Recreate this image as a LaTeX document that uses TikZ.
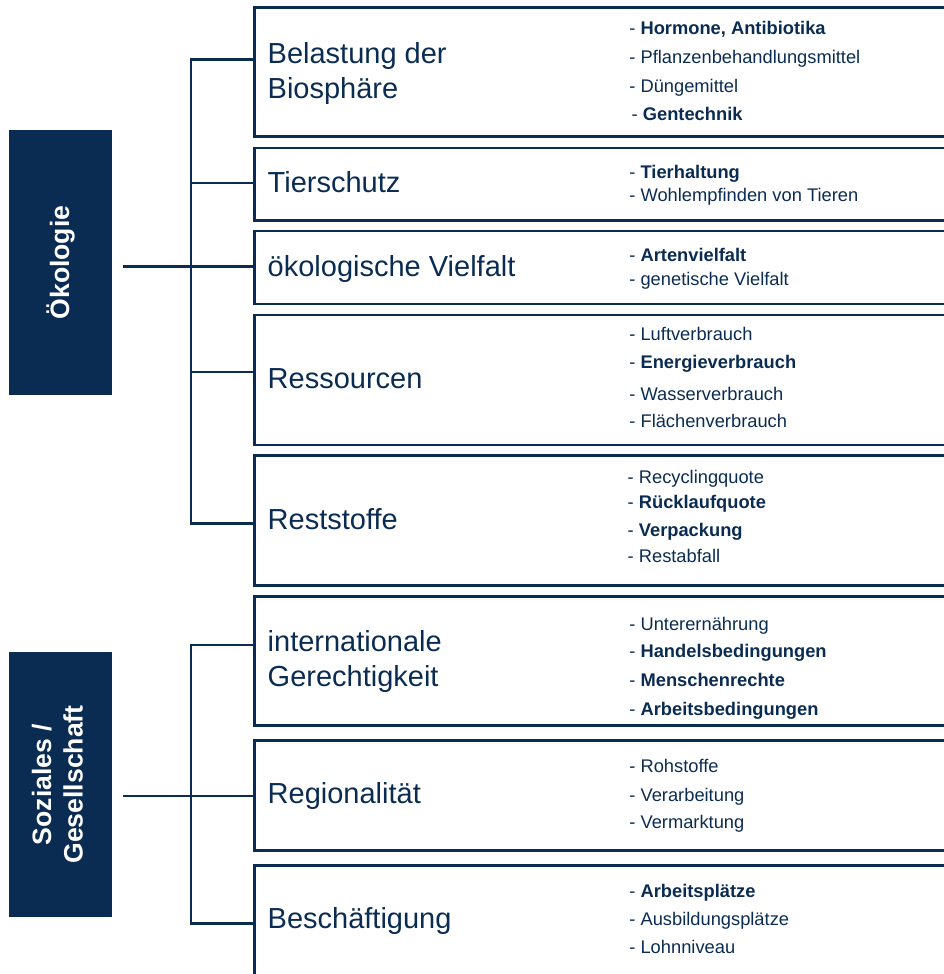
\documentclass[tikz,border=0pt]{standalone}
\usepackage{fontspec}
\setmainfont{Liberation Sans}
\usepackage{graphicx}
\definecolor{navy}{HTML}{0B2C52}
\begin{document}
\begin{tikzpicture}[x=1pt,y=-1pt,
  conn/.style={draw=navy, line width=2.6pt},
  catbox/.style={fill=navy, inner sep=0pt, minimum width=103pt, minimum height=265pt, text=white, font=\fontsize{26.6}{31.5}\selectfont\bfseries},
  subbox/.style={draw=navy, line width=2.7pt, inner sep=0pt, minimum width=707pt, anchor=west},
  title/.style={anchor=base west, inner sep=0pt, text=navy, font=\fontsize{29}{35}\selectfont},
  item/.style={anchor=base west, inner sep=0pt, text=navy, font=\fontsize{18.3}{22}\selectfont},
]
\useasboundingbox (0,0) rectangle (944,974);
\clip (0,0) rectangle (944,974);

% category boxes
\node[catbox] (oek) at (60.5,262.5) {\rotatebox{90}{Ökologie}};
\node[catbox] (soz) at (60.5,784.5) {\rotatebox{90}{\begin{tabular}{@{}c@{}}Soziales /\\Gesellschaft\end{tabular}}};

% subject boxes
\node[subbox, minimum height=129.4pt] (b1) at (253,72) {};
\node[subbox, minimum height=72.7pt] (b2) at (253,184.35) {};
\node[subbox, minimum height=73pt] (b3) at (253,267.5) {};
\node[subbox, minimum height=130pt] (b4) at (253,380) {};
\node[subbox, minimum height=130pt] (b5) at (253,520.7) {};
\node[subbox, minimum height=129pt] (b6) at (253,661.2) {};
\node[subbox, minimum height=110pt] (b7) at (253,795.7) {};
\node[subbox, minimum height=129.3pt] (b8) at (253,930.35) {};

% connectors
\coordinate (k1) at (191,59.3);
\coordinate (k2) at (191,183);
\coordinate (k3) at (191,266.7);
\coordinate (k4) at (191,372);
\coordinate (k5) at (191,523.3);
\coordinate (k6) at (191,645);
\coordinate (k7) at (191,796);
\coordinate (k8) at (191,923.3);
\coordinate (o1) at ([xshift=11pt]oek.east);
\coordinate (o2) at ([xshift=11pt]soz.east);

\draw[conn] (k1 -| b1.west) -- (k1) -- (k5) -- (k5 -| b5.west);
\draw[conn] (k2) -- (k2 -| b2.west);
\draw[conn] (k4) -- (k4 -| b4.west);
\draw[conn] (o1 |- k3) -- (k3 -| b3.west);

\draw[conn] (k6 -| b6.west) -- (k6) -- (k8) -- (k8 -| b8.west);
\draw[conn] (o2 |- k7) -- (k7 -| b7.west);

% titles
\node[title] (t1a) at (267.5,63.3) {Belastung der};
\node[title] (t1b) at (267.5,98.3) {Biosphäre};
\node[title] (t2) at (267.5,192.7) {Tierschutz};
\node[title] (t3) at (267.5,276) {ökologische Vielfalt};
\node[title] (t4) at (267.5,388.3) {Ressourcen};
\node[title] (t5) at (267.5,529.3) {Reststoffe};
\node[title] (t6a) at (267.5,651.7) {internationale};
\node[title] (t6b) at (267.5,686.7) {Gerechtigkeit};
\node[title] (t7) at (267.5,803.3) {Regionalität};
\node[title] (t8) at (267.5,928.3) {Beschäftigung};

% items
\node[item] (i11) at (629.2,34.3) {- \textbf{Hormone, Antibiotika}};
\node[item] (i12) at (629.2,63.3) {- Pflanzenbehandlungsmittel};
\node[item] (i13) at (629.2,92.7) {- Düngemittel};
\node[item] (i14) at (631.5,120.7) {- \textbf{Gentechnik}};
\node[item] (i21) at (629.2,178.3) {- \textbf{Tierhaltung}};
\node[item] (i22) at (629.2,201.7) {- Wohlempfinden von Tieren};
\node[item] (i31) at (629.2,261.7) {- \textbf{Artenvielfalt}};
\node[item] (i32) at (629.2,285) {- genetische Vielfalt};
\node[item] (i41) at (629.2,340) {- Luftverbrauch};
\node[item] (i42) at (629.2,368.3) {- \textbf{Energieverbrauch}};
\node[item] (i43) at (629.2,400) {- Wasserverbrauch};
\node[item] (i44) at (629.2,427.7) {- Flächenverbrauch};
\node[item] (i51) at (627.5,483.3) {- Recyclingquote};
\node[item] (i52) at (627.5,508.7) {- \textbf{Rücklaufquote}};
\node[item] (i53) at (627.5,536.7) {- \textbf{Verpackung}};
\node[item] (i54) at (627.5,562.7) {- Restabfall};
\node[item] (i61) at (629.2,630) {- Unterernährung};
\node[item] (i62) at (629.2,657.3) {- \textbf{Handelsbedingungen}};
\node[item] (i63) at (629.2,686.7) {- \textbf{Menschenrechte}};
\node[item] (i64) at (629.2,715) {- \textbf{Arbeitsbedingungen}};
\node[item] (i71) at (629.2,772.7) {- Rohstoffe};
\node[item] (i72) at (629.2,801) {- Verarbeitung};
\node[item] (i73) at (629.2,828.3) {- Vermarktung};
\node[item] (i81) at (629.2,897.7) {- \textbf{Arbeitsplätze}};
\node[item] (i82) at (629.2,925.7) {- Ausbildungsplätze};
\node[item] (i83) at (629.2,953.3) {- Lohnniveau};
\end{tikzpicture}
\end{document}
